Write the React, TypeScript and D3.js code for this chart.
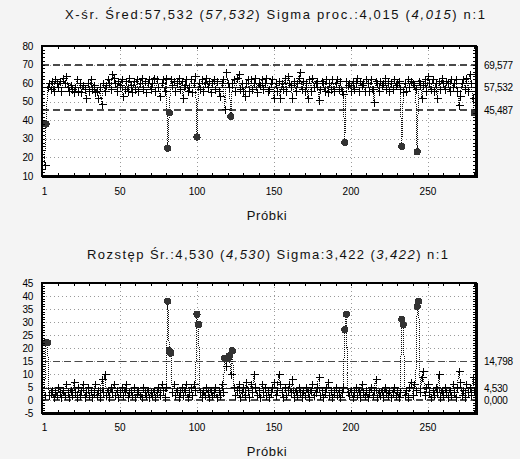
import React from 'react';
import * as d3 from 'd3';

// ---------- data ----------
const XBAR: number[] = [
  16, 38, 58, 60, 57, 61, 56, 62, 60, 58,
  61, 56, 63, 60, 64, 58, 56, 59, 57, 55,
  58, 62, 56, 60, 55, 59, 57, 52, 60, 56,
  62, 57, 59, 55, 56, 52, 58, 49, 60, 56,
  59, 62, 60, 57, 65, 63, 60, 56, 61, 59,
  62, 53, 57, 61, 56, 63, 59, 55, 61, 57,
  62, 56, 60, 63, 57, 61, 55, 60, 62, 57,
  60, 63, 56, 62, 58, 53, 60, 62, 56, 63,
  25, 44, 62, 59, 61, 56, 60, 63, 57, 61,
  52, 59, 62, 56, 58, 62, 55, 60, 64, 31,
  60, 57, 62, 56, 60, 63, 58, 61, 55, 60,
  62, 57, 61, 56, 53, 60, 62, 46, 66, 60,
  58, 42, 60, 62, 56, 63, 65, 57, 60, 56,
  53, 60, 62, 56, 62, 57, 60, 63, 55, 60,
  59, 62, 57, 60, 63, 56, 57, 60, 62, 52,
  60, 56, 61, 52, 60, 57, 63, 56, 64, 60,
  59, 52, 61, 56, 60, 63, 66, 57, 61, 56,
  60, 52, 62, 56, 63, 58, 60, 61, 51, 57,
  61, 60, 56, 62, 55, 60, 57, 62, 56, 60,
  62, 57, 61, 56, 54, 28, 61, 59, 60, 56,
  61, 57, 60, 63, 56, 61, 59, 60, 56, 62,
  60, 56, 62, 57, 50, 61, 60, 56, 61, 59,
  60, 63, 57, 61, 56, 60, 57, 62, 59, 60,
  61, 57, 26, 55, 60, 56, 62, 58, 61, 60,
  59, 57, 23, 61, 60, 52, 59, 62, 56, 64,
  60, 57, 62, 56, 60, 52, 61, 57, 63, 60,
  57, 61, 60, 56, 62, 58, 60, 62, 56, 48,
  53, 60, 62, 57, 63, 56, 65, 60, 52, 44,
];

const RANGE: number[] = [
  2, 22, 22, 2, 3, 4, 1, 3, 2, 5,
  3, 1, 4, 2, 6, 3, 1, 4, 2, 7,
  3, 1, 5, 2, 4, 6, 1, 3, 5, 2,
  4, 1, 3, 6, 2, 4, 1, 8, 3, 10,
  2, 4, 1, 5, 3, 6, 2, 4, 1, 3,
  5, 2, 4, 6, 1, 3, 4, 2, 5, 1,
  3, 4, 2, 1, 5, 3, 2, 4, 1, 3,
  2, 4, 1, 3, 5, 2, 6, 4, 1, 5,
  38, 19, 18, 3, 6, 2, 4, 1, 3, 5,
  2, 4, 6, 1, 3, 5, 2, 6, 4, 33,
  29, 3, 1, 4, 2, 5, 3, 1, 4, 2,
  3, 5, 1, 4, 2, 6, 3, 16, 13, 16,
  17, 10, 19, 5, 2, 4, 6, 1, 3, 5,
  2, 7, 4, 1, 6, 3, 10, 5, 2, 4,
  1, 6, 3, 5, 2, 4, 1, 3, 5, 7,
  2, 4, 10, 6, 3, 1, 5, 2, 4, 6,
  3, 8, 1, 4, 2, 5, 3, 1, 4, 2,
  5, 3, 1, 4, 6, 2, 3, 5, 9, 2,
  4, 1, 3, 5, 7, 2, 4, 1, 3, 5,
  2, 4, 1, 3, 5, 27, 33, 3, 2, 4,
  1, 3, 5, 2, 4, 1, 6, 3, 2, 4,
  1, 3, 5, 2, 4, 8, 1, 3, 2, 4,
  1, 5, 3, 2, 4, 1, 3, 5, 2, 4,
  1, 3, 31, 29, 2, 4, 1, 5, 7, 2,
  6, 4, 36, 38, 3, 9, 11, 2, 5, 6,
  3, 1, 4, 2, 5, 3, 10, 1, 4, 2,
  5, 3, 1, 4, 2, 6, 3, 1, 5, 11,
  7, 2, 4, 1, 6, 3, 5, 2, 9, 4,
];

const XBAR_OUT = [2, 81, 82, 100, 122, 196, 233, 243, 280];
const RANGE_OUT = [2, 3, 81, 82, 83, 100, 101, 118, 120, 121, 123, 196, 197, 233, 234, 243, 244];

const XBAR_LIMITS = [69.577, 57.532, 45.487];
const RANGE_LIMITS = [14.798, 4.53, 0.0];

const SAMPLE_TICKS = [1, 50, 100, 150, 200, 250];
const XBAR_Y_TICKS = [10, 20, 30, 40, 50, 60, 70, 80];
const RANGE_Y_TICKS = [-5, 0, 5, 10, 15, 20, 25, 30, 35, 40, 45];

const XBAR_TITLE = [
  { t: 'X-śr. Śred:57,532 (', i: false },
  { t: '57,532', i: true },
  { t: ') Sigma proc.:4,015 (', i: false },
  { t: '4,015', i: true },
  { t: ') n:1', i: false },
];
const RANGE_TITLE = [
  { t: 'Rozstęp Śr.:4,530 (', i: false },
  { t: '4,530', i: true },
  { t: ') Sigma:3,422 (', i: false },
  { t: '3,422', i: true },
  { t: ') n:1', i: false },
];

const fmt = (v: number) => v.toFixed(3).replace('.', ',');

const FONT = '"Liberation Sans", Arial, sans-serif';

type PanelProps = {
  values: number[];
  outliers: number[];
  limits: number[];
  yDomain: [number, number];
  yTicks: number[];
  minorStep: number;
  top: number;
  bottom: number;
  title: { t: string; i: boolean }[];
  titleX: number;
  titleY: number;
  titleLen: number;
  tickLabelY: number;
  axisTitleY: number;
};

const LEFT = 42;
const RIGHT = 476;

function Panel(p: PanelProps) {
  const x = d3.scaleLinear().domain([-0.65, 281.2]).range([LEFT, RIGHT]);
  const y = d3.scaleLinear().domain(p.yDomain).range([p.bottom, p.top]);
  const line = d3
    .line<number>()
    .x((_, i) => x(i + 1))
    .y((d) => y(d));
  const outSet = new Set(p.outliers);
  const minorX = d3.range(10, 281, 10);
  const minorY = d3.range(p.yDomain[0], p.yDomain[1] + 0.001, p.minorStep);
  const [ucl, cl, lcl] = p.limits;
  const clipId = `clip-${p.top}`;
  return (
    <g>
      <text
        x={p.titleX}
        y={p.titleY}
        textLength={p.titleLen}
        lengthAdjust="spacing"
        fontFamily={FONT}
        fontSize={13}
        fill="#111"
      >
        {p.title.map((s, k) => (
          <tspan key={k} fontStyle={s.i ? 'italic' : 'normal'}>
            {s.t}
          </tspan>
        ))}
      </text>
      <defs>
        <clipPath id={clipId}>
          <rect x={LEFT} y={p.top} width={RIGHT - LEFT} height={p.bottom - p.top} />
        </clipPath>
      </defs>
      <rect x={LEFT} y={p.top} width={RIGHT - LEFT} height={p.bottom - p.top} fill="#fff" />
      {/* grid */}
      {p.yTicks.slice(1, -1).map((t) => (
        <line
          key={'gy' + t}
          x1={LEFT}
          x2={RIGHT}
          y1={Math.round(y(t)) + 0.5}
          y2={Math.round(y(t)) + 0.5}
          stroke="#9a9a9a"
          strokeDasharray="1,3"
        />
      ))}
      {SAMPLE_TICKS.slice(1).map((t) => (
        <line
          key={'gx' + t}
          x1={Math.round(x(t)) + 0.5}
          x2={Math.round(x(t)) + 0.5}
          y1={p.top}
          y2={p.bottom}
          stroke="#9a9a9a"
          strokeDasharray="1,3"
        />
      ))}
      {/* control lines */}
      <g clipPath={`url(#${clipId})`}>
        <line x1={LEFT} x2={RIGHT} y1={y(ucl)} y2={y(ucl)} stroke="#4a4a4a" strokeWidth={1.8} strokeDasharray="7,4" />
        <line x1={LEFT} x2={RIGHT} y1={y(lcl)} y2={y(lcl)} stroke="#4a4a4a" strokeWidth={1.8} strokeDasharray="7,4" />
        <line x1={LEFT} x2={RIGHT} y1={y(cl)} y2={y(cl)} stroke="#222" strokeWidth={1} />
        {/* data */}
        <path d={line(p.values) || ''} fill="none" stroke="#111" strokeWidth={1} strokeDasharray="1,1" />
        {p.values.map((v, i) =>
          outSet.has(i + 1) ? null : (
            <path
              key={'p' + i}
              d={`M${Math.round(x(i + 1)) - 3.5},${Math.round(y(v)) + 0.5}h8M${Math.round(x(i + 1)) + 0.5},${
                Math.round(y(v)) - 3.5
              }v8`}
              stroke="#000"
              strokeWidth={1}
              fill="none"
            />
          )
        )}
        {p.values.map((v, i) =>
          outSet.has(i + 1) ? <circle key={'c' + i} cx={x(i + 1)} cy={y(v)} r={3.6} fill="#333" /> : null
        )}
      </g>
      {/* inner ticks */}
      {minorX.map((t) => (
        <g key={'mx' + t}>
          <line x1={Math.round(x(t)) + 0.5} x2={Math.round(x(t)) + 0.5} y1={p.top} y2={p.top + 3} stroke="#000" />
          <line x1={Math.round(x(t)) + 0.5} x2={Math.round(x(t)) + 0.5} y1={p.bottom - 3} y2={p.bottom} stroke="#000" />
        </g>
      ))}
      {minorY.map((t) => (
        <g key={'my' + t}>
          <line x1={LEFT} x2={LEFT + 3} y1={Math.round(y(t)) + 0.5} y2={Math.round(y(t)) + 0.5} stroke="#000" />
          <line x1={RIGHT - 3} x2={RIGHT} y1={Math.round(y(t)) + 0.5} y2={Math.round(y(t)) + 0.5} stroke="#000" />
        </g>
      ))}
      {/* frame */}
      <rect x={LEFT} y={p.top} width={RIGHT - LEFT} height={p.bottom - p.top} fill="none" stroke="#000" strokeWidth={1.6} />
      <line x1={RIGHT + 1} x2={RIGHT + 1} y1={p.top} y2={p.bottom + 2} stroke="#000" strokeWidth={1.6} />
      <line x1={LEFT} x2={RIGHT + 1.8} y1={p.bottom + 1} y2={p.bottom + 1} stroke="#000" strokeWidth={1.4} />
      {/* y tick labels */}
      {p.yTicks.map((t) => (
        <text
          key={'yl' + t}
          x={33}
          y={y(t)}
          dy="0.35em"
          textAnchor="end"
          fontFamily={FONT}
          fontSize={10}
          fill="#000"
          letterSpacing={-0.3}
        >
          {t}
        </text>
      ))}
      {/* limit labels on right */}
      {p.limits.map((v) => (
        <text
          key={'ll' + v}
          x={484}
          y={y(v)}
          dy="0.35em"
          fontFamily={FONT}
          fontSize={10}
          fill="#000"
          letterSpacing={-0.3}
        >
          {fmt(v)}
        </text>
      ))}
      {/* x tick labels */}
      {SAMPLE_TICKS.map((t) => (
        <text key={'xl' + t} x={x(t)} y={p.tickLabelY} textAnchor="middle" fontFamily={FONT} fontSize={10} fill="#000">
          {t}
        </text>
      ))}
      <text
        x={(LEFT + RIGHT) / 2 + 8}
        y={p.axisTitleY}
        textAnchor="middle"
        fontFamily={FONT}
        fontSize={13}
        letterSpacing={0.6}
        fill="#111"
      >
        Próbki
      </text>
    </g>
  );
}

export default function App() {
  return (
    <svg
      width={520}
      height={459}
      style={{ position: 'absolute', left: 0, top: 0, display: 'block' }}
      shapeRendering="crispEdges"
    >
      <rect x={0} y={0} width={520} height={459} fill="#f4f4f4" />
      <Panel
        values={XBAR}
        outliers={XBAR_OUT}
        limits={XBAR_LIMITS}
        yDomain={[10, 80]}
        yTicks={XBAR_Y_TICKS}
        minorStep={2}
        top={46}
        bottom={176}
        title={XBAR_TITLE}
        titleX={65}
        titleY={19}
        titleLen={420}
        tickLabelY={195}
        axisTitleY={220}
      />
      <Panel
        values={RANGE}
        outliers={RANGE_OUT}
        limits={RANGE_LIMITS}
        yDomain={[-5, 45]}
        yTicks={RANGE_Y_TICKS}
        minorStep={1}
        top={283}
        bottom={413}
        title={RANGE_TITLE}
        titleX={87}
        titleY={259}
        titleLen={361}
        tickLabelY={431}
        axisTitleY={456}
      />
    </svg>
  );
}
